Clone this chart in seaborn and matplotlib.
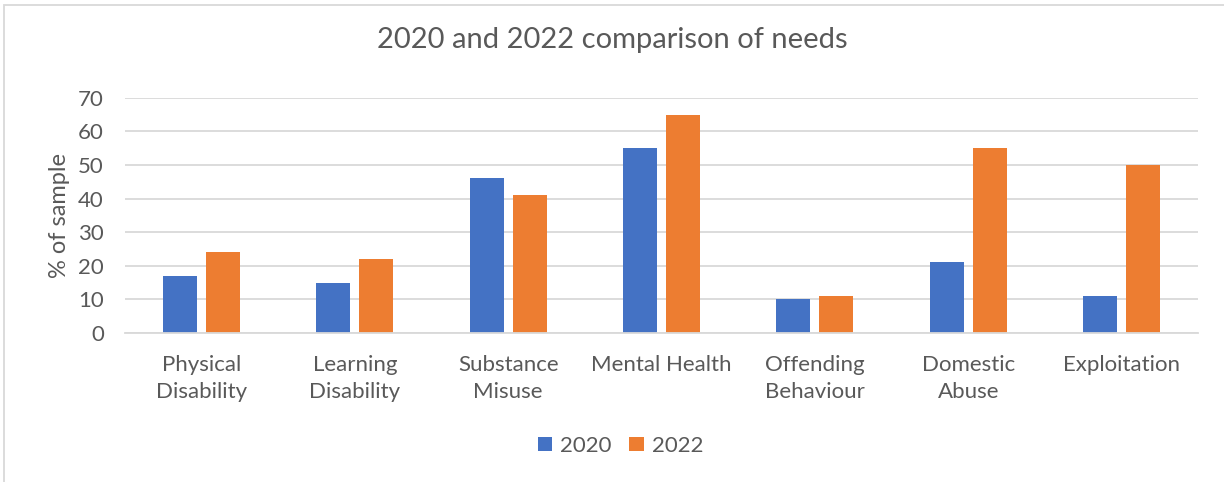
import matplotlib
matplotlib.use("Agg")
import matplotlib.pyplot as plt
import seaborn as sns
import pandas as pd
from matplotlib.patches import Rectangle

categories = ["Physical\nDisability", "Learning\nDisability", "Substance\nMisuse",
              "Mental Health", "Offending\nBehaviour", "Domestic\nAbuse", "Exploitation"]
values_2020 = [17, 15, 46, 55, 10, 21, 11]
values_2022 = [24, 22, 41, 65, 11, 55, 50]
years = ["2020", "2022"]
y_ticks = [0, 10, 20, 30, 40, 50, 60, 70]

df = pd.DataFrame({
    "category": categories * 2,
    "value": values_2020 + values_2022,
    "year": [years[0]] * len(categories) + [years[1]] * len(categories),
})

sns.set_style("white")
plt.rcParams["font.family"] = ["Lato", "DejaVu Sans"]
text_color = "#595959"

fig = plt.figure(figsize=(12.24, 4.82), dpi=100)
ax = fig.add_axes([0.102, 0.309, 0.877, 0.488])

sns.barplot(data=df, x="category", y="value", hue="year", order=categories,
            hue_order=years, palette=["#4472C4", "#ED7D31"], saturation=1,
            width=0.56, gap=0.21, ax=ax, legend=True, edgecolor="none")

ax.set_ylim(0, 70)
ax.set_xlim(-0.5, len(categories) - 0.5)
ax.set_yticks(y_ticks)
ax.yaxis.grid(True, color="#D9D9D9", linewidth=1.3)
ax.set_axisbelow(True)
for s in ["top", "right", "left"]:
    ax.spines[s].set_visible(False)
ax.spines["bottom"].set_color("#D9D9D9")
ax.spines["bottom"].set_linewidth(1.3)
ax.tick_params(axis="both", length=0, labelsize=16, colors=text_color)
ax.tick_params(axis="x", pad=16)
ax.tick_params(axis="y", pad=15)
ax.set_xlabel("")
ax.set_ylabel("% of sample", fontsize=17, color=text_color, labelpad=6)
for lbl in ax.get_xticklabels():
    lbl.set_linespacing(1.45)

fig.suptitle("2020 and 2022 comparison of needs", y=0.945, fontsize=21, color=text_color)

handles, labels = ax.get_legend_handles_labels()
ax.legend_.remove()
fig.legend(handles, labels, loc="center", bbox_to_anchor=(0.507, 0.075), ncol=2,
           frameon=False, fontsize=16, handlelength=0.65, handleheight=0.65,
           columnspacing=0.8, handletextpad=0.35, labelcolor=text_color)

fig.patches.append(Rectangle((0.003, -0.01), 1.2, 1.0, transform=fig.transFigure,
                             fill=False, edgecolor="#D9D9D9", linewidth=1.3))

fig.savefig("out.png", dpi=100)
